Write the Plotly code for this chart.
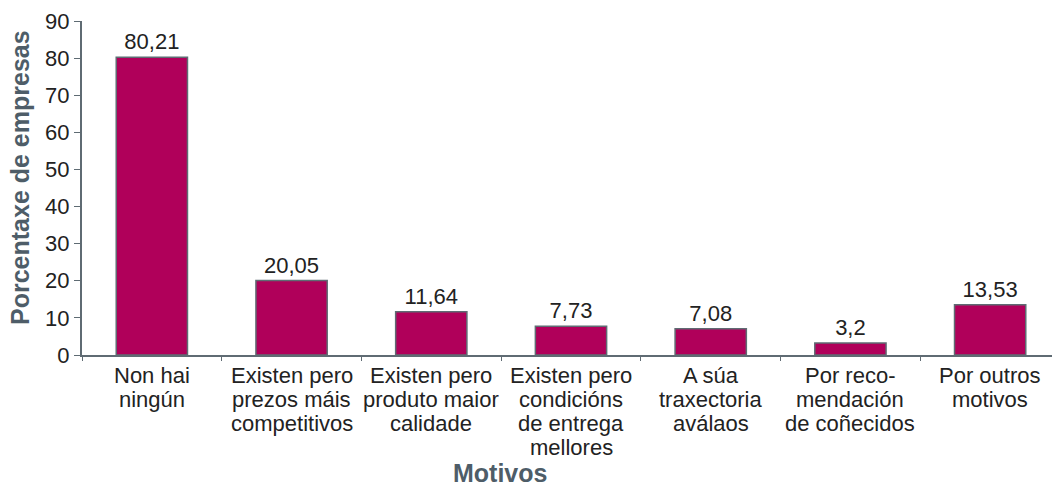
import plotly.graph_objects as go

categorias = [
    "Non hai<br>ningún",
    "Existen pero<br>prezos máis<br>competitivos",
    "Existen pero<br>produto maior<br>calidade",
    "Existen pero<br>condicións<br>de entrega<br>mellores",
    "A súa<br>traxectoria<br>aválaos",
    "Por reco-<br>mendación<br>de coñecidos",
    "Por outros<br>motivos",
]
porcentaxes = [80.21, 20.05, 11.64, 7.73, 7.08, 3.2, 13.53]
etiquetas = ["80,21", "20,05", "11,64", "7,73", "7,08", "3,2", "13,53"]

eixo = "#5f6b73"
titulo = "#4e5d68"
texto = "#222222"

fig = go.Figure(go.Bar(
    x=categorias, y=porcentaxes,
    text=etiquetas, textposition="outside",
    textfont=dict(size=22, color=texto),
    marker=dict(color="#b0005a", line=dict(color=eixo, width=1.5)),
    cliponaxis=False,
))

# category labels: one annotation per line so the line spacing stays tight
notas = []
for cat in categorias:
    for i, liña in enumerate(cat.split("<br>")):
        notas.append(dict(
            text=liña, x=cat, xref="x", y=0, yref="paper",
            yshift=-20 - 24.2 * i, showarrow=False,
            xanchor="center", yanchor="middle",
            font=dict(size=22, color=texto),
        ))

notas.append(dict(
    text="<b>Motivos</b>", xref="paper", yref="paper",
    x=0.4274, y=0, yshift=-118, showarrow=False,
    xanchor="center", yanchor="middle",
    font=dict(size=25, color=titulo),
))
notas.append(dict(
    text="<b>Porcentaxe de empresas</b>", xref="paper", yref="paper",
    x=0, y=0.5, xshift=-62, yshift=10, textangle=-90, showarrow=False,
    xanchor="center", yanchor="middle", borderpad=0,
    font=dict(size=25, color=titulo),
))

fig.update_layout(
    width=1052, height=480,
    margin=dict(l=74, r=0, t=13, b=133),
    plot_bgcolor="white", paper_bgcolor="white",
    font=dict(family="Liberation Sans, Arial, sans-serif", size=22, color=texto),
    bargap=0.49, showlegend=False,
    xaxis=dict(
        automargin=False, showticklabels=False,
        showline=True, linecolor=eixo, linewidth=2,
        ticks="outside", tickson="boundaries", ticklen=4, tickcolor=eixo,
    ),
    yaxis=dict(
        automargin=False,
        range=[0, 90], dtick=10, showgrid=False, zeroline=False,
        showline=True, linecolor=eixo, linewidth=2,
        ticks="outside", ticklen=6, tickcolor=eixo,
    ),
    annotations=notas,
)

fig.write_html("out.html")
